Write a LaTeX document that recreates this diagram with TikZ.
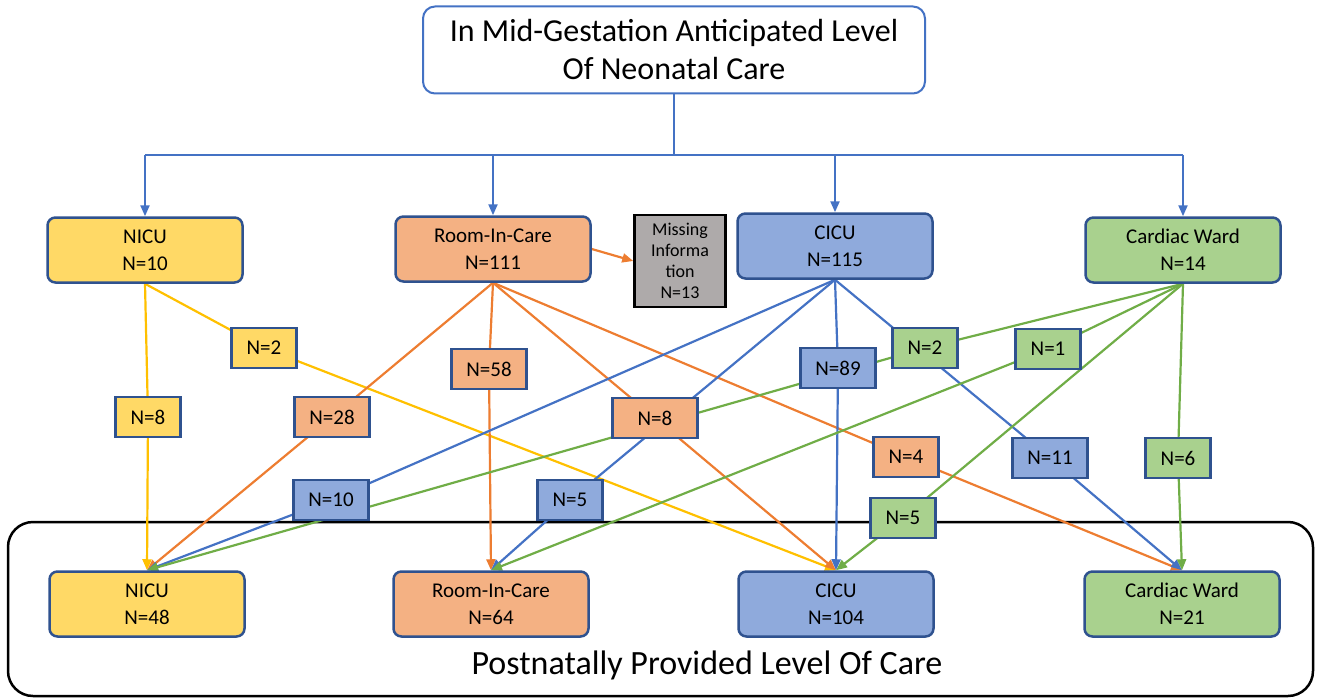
\documentclass[tikz,border=0pt]{standalone}
\usepackage{fontspec}
\setmainfont{Carlito}
\usetikzlibrary{arrows.meta}
\pgfdeclarelayer{bg}
\pgfsetlayers{bg,main}
\definecolor{yfill}{HTML}{FFD966}
\definecolor{ofill}{HTML}{F4B183}
\definecolor{bfill}{HTML}{8FAADC}
\definecolor{gfill}{HTML}{A9D18E}
\definecolor{mfill}{HTML}{AEAAAA}
\definecolor{bordc}{HTML}{2F528F}
\definecolor{ylw}{HTML}{FFC000}
\definecolor{org}{HTML}{ED7D31}
\definecolor{blu}{HTML}{4472C4}
\definecolor{grn}{HTML}{70AD47}
\begin{document}
\begin{tikzpicture}[x=1pt,y=-1pt,
  box/.style={draw=bordc, line width=2.5pt, rounded corners=8pt, minimum width=195pt, minimum height=65pt, align=center, font=\fontsize{21}{27}\selectfont, inner sep=0pt},
  lbl/.style={draw=bordc, line width=2.5pt, minimum height=40pt, inner xsep=15pt, inner ysep=0pt, font=\fontsize{21}{24}\selectfont},
  conn/.style={line width=2.2pt},
  arr/.style={conn, -{Triangle[length=11pt,width=9pt]}}
]
\useasboundingbox (0,0) rectangle (1317,698);

% title
\node[draw=blu, line width=2pt, rounded corners=12pt, minimum width=502pt, minimum height=87pt, align=center, font=\fontsize{32}{38}\selectfont] (title) at (674,50) {In Mid-Gestation Anticipated Level\\Of Neonatal Care};

% top level boxes
\node[box, fill=yfill] (nicuT) at (145,250) {NICU\\N=10};
\node[box, fill=ofill] (roomT) at (493,249) {Room-In-Care\\N=111};
\node[box, fill=bfill] (cicuT) at (835,246) {CICU\\N=115};
\node[box, fill=gfill] (cardT) at (1183,250) {Cardiac Ward\\N=14};
\node[draw=black, fill=mfill, line width=2.5pt, minimum width=91pt, minimum height=92pt, align=center, font=\fontsize{18}{21}\selectfont, inner sep=0pt] (miss) at (680,261) {Missing\\Informa\\tion\\N=13};

% bottom boxes
\node[box, fill=yfill] (nicuB) at (147,604) {NICU\\N=48};
\node[box, fill=ofill] (roomB) at (491,604) {Room-In-Care\\N=64};
\node[box, fill=bfill] (cicuB) at (836,604) {CICU\\N=104};
\node[box, fill=gfill] (cardB) at (1182,604) {Cardiac Ward\\N=21};

% labels
\node[lbl, fill=yfill] (y2) at (264,348) {N=2};
\node[lbl, fill=yfill] (y8) at (148,417) {N=8};
\node[lbl, fill=ofill] (o28) at (332,417) {N=28};
\node[lbl, fill=ofill] (o58) at (489,369) {N=58};
\node[lbl, fill=ofill, minimum width=85pt] (o8) at (655,418) {N=8};
\node[lbl, fill=ofill] (o4) at (906,457) {N=4};
\node[lbl, fill=bfill] (b10) at (331,500) {N=10};
\node[lbl, fill=bfill] (b5) at (570,500) {N=5};
\node[lbl, fill=bfill] (b89) at (838,368) {N=89};
\node[lbl, fill=bfill] (b11) at (1050,458) {N=11};
\node[lbl, fill=gfill] (g2) at (925,348) {N=2};
\node[lbl, fill=gfill] (g1) at (1048,349) {N=1};
\node[lbl, fill=gfill] (g6) at (1178,458) {N=6};
\node[lbl, fill=gfill] (g5) at (903,518) {N=5};

\begin{pgfonlayer}{bg}
\node[draw=black, line width=2.5pt, rounded corners=25pt, minimum width=1305pt, minimum height=174pt, inner sep=0pt] (post) at (660.5,609) {};
\node[font=\fontsize{34}{40}\selectfont] (posttxt) at (707,665) {Postnatally Provided Level Of Care};

% tree from title
\coordinate (hy) at (0,155);
\draw[conn, blu] (title.south) -- (title.south |- hy);
\draw[conn, blu] (nicuT.north |- hy) -- (cardT.north |- hy);
\draw[arr, blu] (nicuT.north |- hy) -- (nicuT.north);
\draw[arr, blu] (roomT.north |- hy) -- (roomT.north);
\draw[arr, blu] (cicuT.north |- hy) -- (cicuT.north);
\draw[arr, blu] (cardT.north |- hy) -- (cardT.north);

\draw[arr, org] (roomT.east) -- (miss.west);

% yellow
\draw[arr, ylw] (nicuT.south) -- (y8.center) -- (nicuB.north);
\draw[arr, ylw] (nicuT.south) -- (y2.center) -- (cicuB.north);
% orange
\draw[arr, org] (roomT.south) -- (o28.center) -- (nicuB.north);
\draw[arr, org] (roomT.south) -- (o58.center) -- (roomB.north);
\draw[arr, org] (roomT.south) -- (o8.center) -- (cicuB.north);
\draw[arr, org] (roomT.south) -- (o4.center) -- (cardB.north);
% blue
\draw[arr, blu] (cicuT.south) -- (b10.center) -- (nicuB.north);
\draw[arr, blu] (cicuT.south) -- (b5.center) -- (roomB.north);
\draw[arr, blu] (cicuT.south) -- (b89.center) -- (cicuB.north);
\draw[arr, blu] (cicuT.south) -- (b11.center) -- (cardB.north);
% green
\draw[arr, grn] (cardT.south) -- (g2.center) -- (nicuB.north);
\draw[arr, grn] (cardT.south) -- (g1.center) -- (roomB.north);
\draw[arr, grn] (cardT.south) -- (g5.center) -- (cicuB.north);
\draw[arr, grn] (cardT.south) -- (g6.center) -- (cardB.north);
\end{pgfonlayer}
\end{tikzpicture}
\end{document}
